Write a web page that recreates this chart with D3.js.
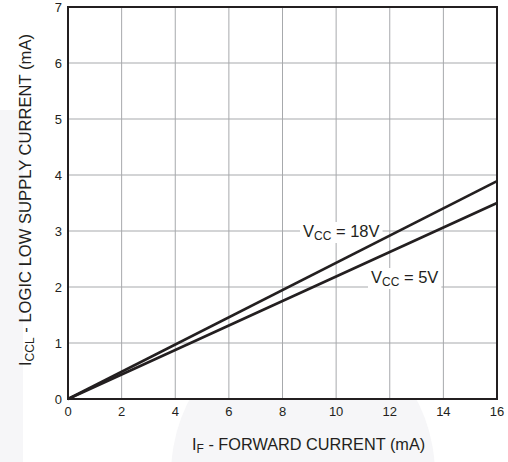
<!DOCTYPE html>
<meta charset="utf-8">
<head>
    <script type="text/javascript" src="https://d3js.org/d3.v7.min.js"></script>
    <style>
        body { margin: 0; background: #fff; }
        text { font-family: "Liberation Sans", Arial, sans-serif; fill: #231f20; }
    </style>
</head>
<body>
<div id="chart"></div>
</body>
<script>
    // data
    var xTicks = [0, 2, 4, 6, 8, 10, 12, 14, 16];
    var yTicks = [0, 1, 2, 3, 4, 5, 6, 7];
    var forwardCurrent = [0, 16];
    var vcc18 = [0, 3.89];
    var vcc5 = [0, 3.5];
    var seriesNames = ["18V", "5V"];

    var W = 508, H = 462;
    var margin = {top: 7, right: 11, bottom: 63, left: 68};

    var svg = d3.select('#chart').append('svg')
        .attr('width', W).attr('height', H);

    // faint watermark in the background
    svg.append('rect').attr('x', 0).attr('y', 110).attr('width', 23).attr('height', H - 110)
        .attr('fill', '#f6f6f8');
    svg.append('ellipse').attr('cx', 303).attr('cy', 475).attr('rx', 132).attr('ry', 148)
        .attr('fill', '#f6f6f8');

    var x = d3.scaleLinear().domain([0, 16]).range([margin.left, W - margin.right]);
    var y = d3.scaleLinear().domain([0, 7]).range([H - margin.bottom, margin.top]);

    var g = svg.append('g');

    // plot background
    g.append('rect')
        .attr('x', x(0)).attr('y', y(7))
        .attr('width', x(16) - x(0)).attr('height', y(0) - y(7))
        .attr('fill', '#fff');

    // grid
    g.selectAll('.gx').data(xTicks.slice(1, -1)).enter().append('line')
        .attr('x1', d => x(d)).attr('x2', d => x(d))
        .attr('y1', y(0)).attr('y2', y(7))
        .attr('stroke', '#a7a9ac').attr('stroke-width', 1);
    g.selectAll('.gy').data(yTicks.slice(1, -1)).enter().append('line')
        .attr('x1', x(0)).attr('x2', x(16))
        .attr('y1', d => y(d)).attr('y2', d => y(d))
        .attr('stroke', '#a7a9ac').attr('stroke-width', 1);

    // tick labels
    g.selectAll('.tx').data(xTicks).enter().append('text')
        .attr('x', d => x(d)).attr('y', y(0) + 17)
        .attr('text-anchor', 'middle').attr('font-size', 13)
        .text(d => d);
    g.selectAll('.ty').data(yTicks).enter().append('text')
        .attr('x', x(0) - 6).attr('y', d => y(d) + 4.5)
        .attr('text-anchor', 'end').attr('font-size', 13)
        .text(d => d);

    // curve labels with white boxes
    function label(px, py, val) {
        var box = g.append('rect').attr('fill', '#fff');
        var t = g.append('text').attr('x', px).attr('y', py).attr('font-size', 16.5);
        t.append('tspan').text('V');
        t.append('tspan').attr('font-size', 12).attr('dy', 3).text('CC');
        t.append('tspan').attr('dy', -3).text(' = ' + val);
        var b = t.node().getBBox();
        box.attr('x', b.x - 3).attr('y', b.y).attr('width', b.width + 6).attr('height', b.height);
    }
    label(303, 237, seriesNames[0]);
    label(371, 283, seriesNames[1]);

    // curves
    var line = d3.line().x(d => x(d[0])).y(d => y(d[1]));
    [vcc18, vcc5].forEach(function (s) {
        g.append('path')
            .datum(forwardCurrent.map((f, i) => [f, s[i]]))
            .attr('d', line)
            .attr('fill', 'none').attr('stroke', '#231f20').attr('stroke-width', 2.6);
    });

    // frame
    g.append('rect')
        .attr('x', x(0)).attr('y', y(7))
        .attr('width', x(16) - x(0)).attr('height', y(0) - y(7))
        .attr('fill', 'none').attr('stroke', '#231f20').attr('stroke-width', 2);

    // axis titles
    var xt = svg.append('text').attr('x', 192).attr('y', 450).attr('font-size', 16.3);
    xt.append('tspan').text('I');
    xt.append('tspan').attr('font-size', 12).attr('dy', 3).text('F');
    xt.append('tspan').attr('dy', -3).text(' - FORWARD CURRENT (mA)');

    var yt = svg.append('text').attr('transform', 'translate(31, 366) rotate(-90)')
        .attr('font-size', 16.6);
    yt.append('tspan').text('I');
    yt.append('tspan').attr('font-size', 12).attr('dy', 3).text('CCL');
    yt.append('tspan').attr('dy', -3).text(' - LOGIC LOW SUPPLY CURRENT (mA)');
</script>
</html>
